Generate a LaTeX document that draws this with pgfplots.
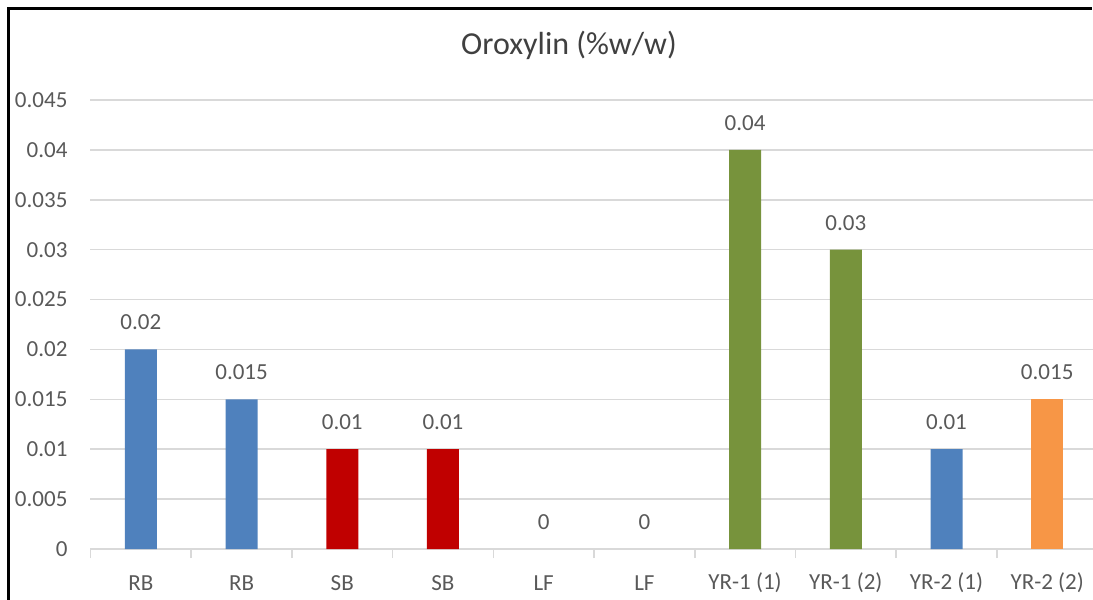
\documentclass[border=0pt]{standalone}
\usepackage{pgfplots}
\pgfplotsset{compat=1.18}
\usepackage{fontspec}
\setmainfont{Carlito}

\definecolor{barblue}{HTML}{4F81BD}
\definecolor{barred}{HTML}{C00000}
\definecolor{bargreen}{HTML}{77933C}
\definecolor{barorange}{HTML}{F79646}
\definecolor{gridgray}{HTML}{D9D9D9}
\definecolor{labelgray}{HTML}{595959}
\definecolor{titlegray}{HTML}{404040}

\newcommand{\lbl}{\fontsize{11.5}{13}\selectfont}

\begin{document}
\begin{tikzpicture}
\path[use as bounding box] (0,0) rectangle (546.5pt,300pt);

\begin{axis}[
  at={(45.25pt,25.5pt)}, anchor=south west,
  scale only axis, width=501pt, height=224.5pt,
  ybar,
  xmin=-0.5, xmax=9.45,
  ymin=0, ymax=0.045,
  ytick={0,0.005,...,0.045},
  scaled y ticks=false,
  xtick={0,...,9},
  xticklabels={RB,RB,SB,SB,LF,LF,{YR-1 (1)},{YR-1 (2)},{YR-2 (1)},{YR-2 (2)}},
  minor xtick={-0.5,0.5,...,8.5},
  major tick length=0pt,
  minor tick length=4.5pt,
  tick align=outside,
  axis x line*=bottom,
  axis y line*=left,
  x axis line style={draw=gridgray, line width=0.8pt},
  y axis line style={draw=none},
  minor x tick style={draw=gridgray, line width=0.8pt},
  ymajorgrids,
  major grid style={draw=gridgray, line width=0.8pt},
  yticklabel={\pgfmathprintnumber[fixed,precision=3,assume math mode=true]{\tick}},
  yticklabel style={font=\lbl, text=labelgray, anchor=east, xshift=-8pt},
  xticklabel style={font=\lbl, text=labelgray, anchor=center, yshift=-17pt},
  nodes near coords={\pgfmathprintnumber[fixed,precision=3,assume math mode=true]{\pgfplotspointmeta}},
  every node near coord/.append style={font=\lbl, text=labelgray, anchor=center, yshift=13.5pt},
  bar width=16pt,
  clip=false,
]
\addplot[bar shift=0pt, fill=barblue, draw=none] coordinates {(0,0.02) (1,0.015) (8,0.01)};
\addplot[bar shift=0pt, fill=barred, draw=none] coordinates {(2,0.01) (3,0.01)};
\addplot[bar shift=0pt, fill=none, draw=none] coordinates {(4,0) (5,0)};
\addplot[bar shift=0pt, fill=bargreen, draw=none] coordinates {(6,0.04) (7,0.03)};
\addplot[bar shift=0pt, fill=barorange, draw=none] coordinates {(9,0.015)};
\end{axis}

\node[font=\fontsize{16}{19}\selectfont, text=titlegray] at (284.5pt,277.5pt) {Oroxylin (\%w/w)};
\draw[black, line width=1.5pt] (4pt,0) -- (4pt,295.75pt) -- (546pt,295.75pt);
\end{tikzpicture}
\end{document}
